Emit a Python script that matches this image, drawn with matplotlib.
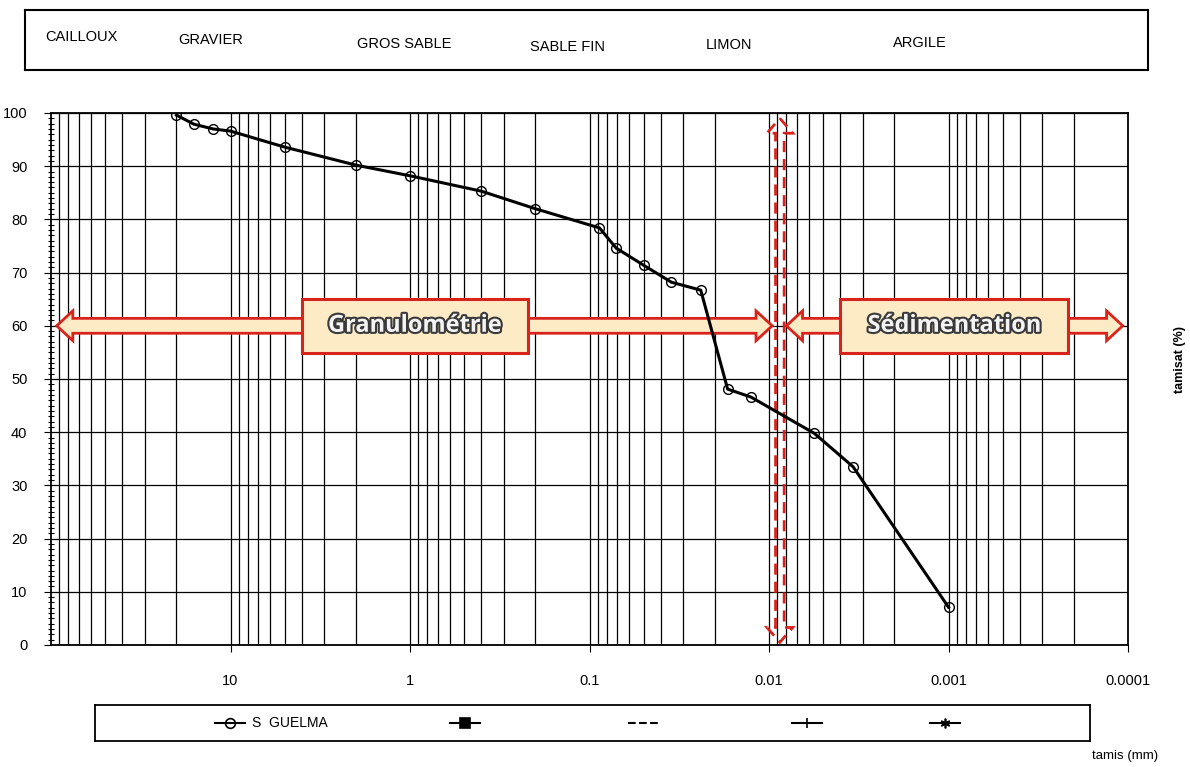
import numpy as np
import matplotlib.pyplot as plt
import matplotlib.patheffects as pe
from matplotlib.patches import Polygon, Rectangle
from matplotlib.lines import Line2D
from matplotlib.ticker import LogLocator, NullFormatter, MultipleLocator
from matplotlib.transforms import blended_transform_factory

plt.rcParams['font.family'] = ['Liberation Sans', 'DejaVu Sans']

# courbe granulométrique : tamis (mm) / tamisat (%)
TAMIS = [20, 16, 12.5, 10, 5, 2, 1, 0.4, 0.2, 0.088, 0.071, 0.05, 0.035,
         0.024, 0.017, 0.0126, 0.0056, 0.0034, 0.001]
TAMISAT = [99.6, 97.9, 97.0, 96.6, 93.6, 90.2, 88.2, 85.3, 82.0, 78.4, 74.6,
           71.4, 68.2, 66.7, 48.1, 46.6, 39.8, 33.5, 7.1]

CLASSES = ['CAILLOUX', 'GRAVIER', 'GROS SABLE', 'SABLE FIN', 'LIMON', 'ARGILE']
X_TICKS = [10, 1, 0.1, 0.01, 0.001, 0.0001]
X_LABELS = ['10', '1', '0.1', '0.01', '0.001', '0.0001']
Y_TICKS = list(range(0, 101, 10))

# zones : (début, fin, cadre gauche, cadre droit, texte)
ZONES = [(93, 0.0096, 4.0, 0.22, 'Granulométrie'),
         (0.0080, 0.000107, 0.0040, 0.000215, 'Sédimentation')]
LIMITE = 0.0087

RED = '#d8231c'
BEIGE = '#fdebc6'
W, H = 1190, 767

fig = plt.figure(figsize=[W / 100, H / 100], dpi=100)
ax = fig.add_axes([51 / W, 1 - 645 / H, 1077 / W, 532 / H])

ax.set_xscale('log')
ax.set_xlim(100, 0.0001)
ax.set_ylim(0, 100)
ax.set_xticks(X_TICKS)
ax.set_xticklabels(X_LABELS)
ax.xaxis.set_minor_locator(LogLocator(base=10, subs=np.arange(2, 10)))
ax.xaxis.set_minor_formatter(NullFormatter())
ax.set_yticks(Y_TICKS)
ax.yaxis.set_minor_locator(MultipleLocator(1))
ax.tick_params(axis='x', which='major', length=5, pad=16, labelsize=10.5)
ax.tick_params(axis='x', which='minor', length=0)
ax.tick_params(axis='y', which='major', length=5, pad=12, labelsize=10.5)
ax.tick_params(axis='y', which='minor', length=4, direction='inout', width=0.8)
ax.grid(True, which='both', axis='x', color='black', lw=0.9)
ax.grid(True, which='major', axis='y', color='black', lw=0.9)
ax.set_axisbelow(True)
for s in ax.spines.values():
    s.set_linewidth(1.3)

ax.plot(TAMIS, TAMISAT, color='black', lw=2.2, marker='o', ms=7, mfc='none',
        mec='black', mew=1, zorder=4)


def to_frac(x):
    return ax.transAxes.inverted().transform(ax.transData.transform((x, 50)))[0]


tr = blended_transform_factory(ax.transAxes, ax.transData)
for x0, x1, b0, b1, txt in ZONES:
    a, b = to_frac(x0), to_frac(x1)
    bl, br = to_frac(b0), to_frac(b1)
    y, hl, sh, hh, bh = 60, 0.015, 1.4, 2.8, 5.1
    pts = [(a, y), (a + hl, y + hh), (a + hl, y + sh), (b - hl, y + sh),
           (b - hl, y + hh), (b, y), (b - hl, y - hh), (b - hl, y - sh),
           (a + hl, y - sh), (a + hl, y - hh)]
    ax.add_patch(Polygon(pts, closed=True, transform=tr, fc=BEIGE, ec=RED,
                         lw=2, zorder=2.5))
    ax.add_patch(Rectangle((bl, y - bh), br - bl, 2 * bh, transform=tr,
                           fc=BEIGE, ec=RED, lw=2.2, zorder=2.6))
    ax.text((bl + br) / 2, y, txt, transform=tr, ha='center', va='center',
            family=['Open Sans', 'DejaVu Sans'], fontweight='bold', fontsize=17,
            color='#f4f4f4', zorder=5,
            path_effects=[pe.withStroke(linewidth=3, foreground='#3a3a3a')])

# limite granulométrie / sédimentation (flèche creuse en tirets)
c = to_frac(LIMITE)
sw, hw, hlen, top, bot = 0.004, 0.012, 2.8, 99, 0.5
pts = [(c, top), (c + hw, top - hlen), (c + sw, top - hlen), (c + sw, bot + hlen),
       (c + hw, bot + hlen), (c, bot), (c - hw, bot + hlen), (c - sw, bot + hlen),
       (c - sw, top - hlen), (c - hw, top - hlen)]
ax.add_patch(Polygon(pts, closed=True, transform=tr, fc='none', ec=RED, lw=2,
                     ls=(0, (4, 2.5)), zorder=3))

fig.text(1180 / W, 1 - 360 / H, 'tamisat (%)', rotation=90, ha='center',
         va='center', fontsize=9, fontweight='bold')
fig.text(1125 / W, 1 - 756 / H, 'tamis (mm)', ha='center', va='center',
         fontsize=9.5)

# bandeau des classes
top_ax = fig.add_axes([25 / W, 1 - 70 / H, 1123 / W, 60 / H])
top_ax.set_xlim(0, 1123)
top_ax.set_ylim(60, 0)
top_ax.set_xticks([])
top_ax.set_yticks([])
for s in top_ax.spines.values():
    s.set_linewidth(1.5)
for name, (px, py) in zip(CLASSES, [(20, 27), (153, 30), (332, 34),
                                    (505, 37), (681, 35), (868, 33)]):
    top_ax.text(px, py, name, ha='left', va='center', fontsize=10.5)

# légende
leg_ax = fig.add_axes([95 / W, 1 - 741 / H, 995 / W, 36 / H])
leg_ax.set_xlim(0, 995)
leg_ax.set_ylim(0, 36)
leg_ax.set_xticks([])
leg_ax.set_yticks([])
for s in leg_ax.spines.values():
    s.set_linewidth(1.3)
leg_items = [('o', '-', 'S  GUELMA', 135), ('s', '-', '', 370),
             ('', '--', '', 548), ('|', '-', '', 712), ((6, 2, 0), '-', '', 850)]
for mk, ls, lab, cx in leg_items:
    leg_ax.add_line(Line2D([cx - 15, cx + 15], [18, 18], color='black', lw=1.5,
                           ls=ls, marker=None))
    if mk:
        leg_ax.add_line(Line2D([cx], [18], color='black', marker=mk, ms=7,
                               mfc='none' if mk == 'o' else 'black', mew=1.2))
    if lab:
        leg_ax.text(cx + 22, 18, lab, ha='left', va='center', fontsize=10)

fig.savefig('out.png', dpi=100)
